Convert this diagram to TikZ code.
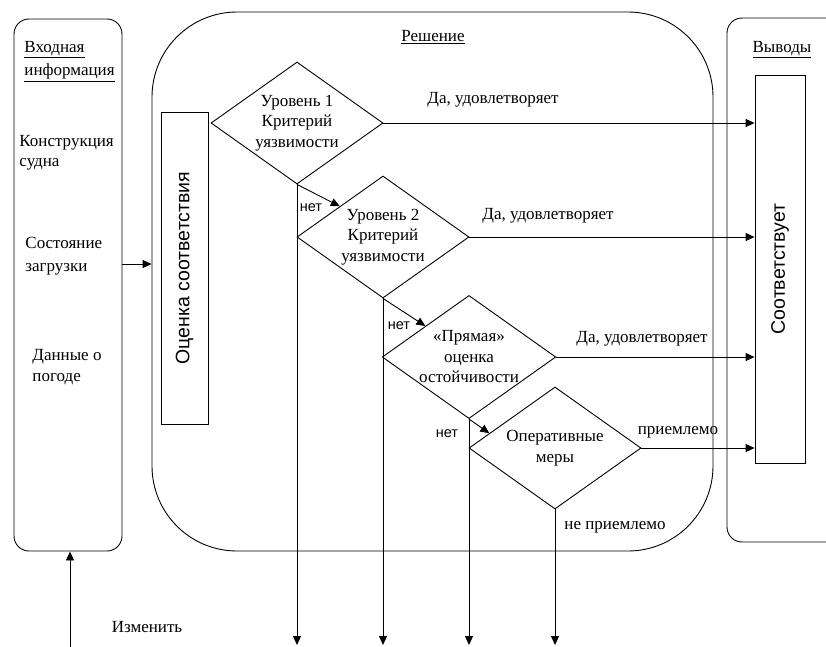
\documentclass[tikz,border=0pt]{standalone}
\usepackage{fontspec}
\setmainfont{Liberation Serif}
\setsansfont{Liberation Sans}
\usetikzlibrary{shapes.geometric,arrows.meta,calc}
\begin{document}
\begin{tikzpicture}[x=1pt,y=-1pt,line width=0.9pt,
  font=\fontsize{17}{20.5}\selectfont,
  dia/.style={draw,shape=diamond,aspect=1.41,inner sep=0pt,minimum width=172pt,minimum height=122pt,align=center},
  arr/.style={-{Triangle[length=9pt,width=8pt]}},
  lbl/.style={inner sep=0pt},
  rotlbl/.style={inner sep=0pt,rotate=90,font=\sffamily\fontsize{19.5}{22}\selectfont},
  netlbl/.style={inner sep=0pt,font=\sffamily\fontsize{14.5}{16}\selectfont},
  plainbox/.style={draw,inner sep=0pt}
]
\useasboundingbox (0,0) rectangle (826,646);
\clip (0,0) rectangle (826,646);

% containers
\node[draw,rounded corners=15pt,minimum width=108pt,minimum height=532pt] (inp) at (68,285) {};
\node[draw,rounded corners=85pt,minimum width=561pt,minimum height=539pt] (sol) at (432.5,281.5) {};
\node[draw,rounded corners=15pt,minimum width=173pt,minimum height=524pt] (outb) at (813.5,280) {};

% titles
\node[lbl] (tsol) at (433,37) {\underline{Решение}};
\node[lbl] (tout) at (782,50) {\underline{Выводы}};
\node[lbl,anchor=west,align=left,font=\fontsize{17}{23}\selectfont] (tinp) at (24,61.5) {\underline{Входная}\\\underline{информация}};

\node[lbl,anchor=west,align=left] (t1) at (19,153) {Конструкция\\судна};
\node[lbl,anchor=west,align=left,font=\fontsize{17}{23}\selectfont] (t2) at (25,256.5) {Состояние\\загрузки};
\node[lbl,anchor=west,align=left,font=\fontsize{17}{21}\selectfont] (t3) at (32,367.5) {Данные о\\погоде};

% vertical boxes
\node[plainbox,minimum width=47pt,minimum height=312pt] (oc) at (184.5,268) {};
\node[rotlbl] (octxt) at (oc) {Оценка соответствия};
\node[plainbox,minimum width=50pt,minimum height=388pt] (res) at (780,269) {};
\node[rotlbl] (restxt) at (res) {Соответствует};

% diamonds
\node[dia] (D1) at (297,123) {Уровень 1\\Критерий\\уязвимости};
\node[dia] (D2) at (383,237) {Уровень 2\\Критерий\\уязвимости};
\node[dia] (D3) at (469,357) {«Прямая»\\оценка\\остойчивости};
\node[dia] (D4) at (555,448) {Оперативные\\меры};

% input arrow
\draw[arr] (inp.east |- 0,264) coordinate (ia) -- (ia -| sol.west);

% yes arrows
\draw[arr] (D1.east) -- (D1.east -| res.west);
\draw[arr] (D2.east) -- (D2.east -| res.west);
\draw[arr] (D3.east) -- (D3.east -| res.west);
\draw[arr] (D4.east) -- (D4.east -| res.west);

\node[lbl] (y1) at (493,100) {Да, удовлетворяет};
\node[lbl] (y2) at (548,216) {Да, удовлетворяет};
\node[lbl] (y3) at (642,339) {Да, удовлетворяет};
\node[lbl] (y4) at (678,432) {приемлемо};
\node[lbl] (y5) at (615,527) {не приемлемо};

% no arrows
\coordinate (bot) at (0,645);
\draw[arr] (D1.south) -- (D2.north west);
\draw[arr] (D2.south) -- (D3.north west);
\draw[arr] (D3.south) -- ($(D4.west)!0.24!(D4.north)$);
\node[netlbl] (n1) at (311,208) {нет};
\node[netlbl] (n2) at (399,326) {нет};
\node[netlbl] (n3) at (447,434) {нет};

\draw[arr] (D1.south) -- (D1.south |- bot);
\draw[arr] (D2.south) -- (D2.south |- bot);
\draw[arr] (D3.south) -- (D3.south |- bot);
\draw[arr] (D4.south) -- (D4.south |- bot);

% change arrow
\coordinate (chg) at (70,650);
\draw[arr] (chg) -- (chg |- inp.south);
\node[lbl] (tchg) at (147,627) {Изменить};
\end{tikzpicture}
\end{document}
